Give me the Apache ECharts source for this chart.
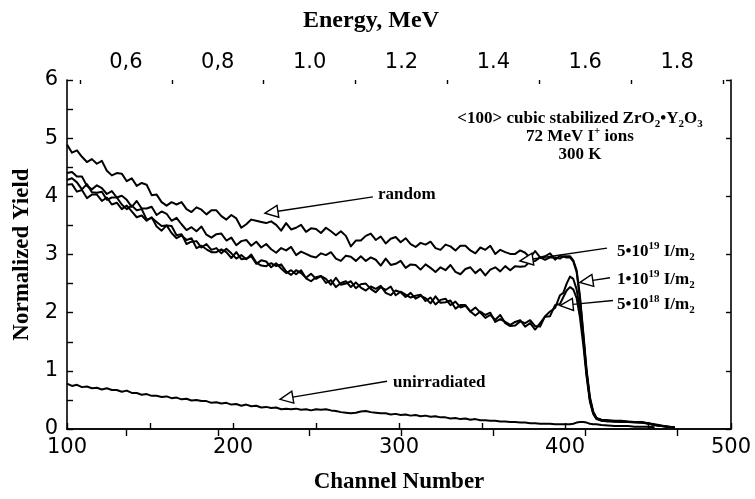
<!DOCTYPE html>
<html><head><meta charset="utf-8">
<script src="https://cdn.jsdelivr.net/npm/echarts@6/dist/echarts.min.js"></script>
<style>html,body{margin:0;padding:0;background:#fff}#c{width:755px;height:499px}</style>
</head><body><div id="c"></div>
<script>
const channels = [100,103,106,109,112,115,118,121,124,127,
 130,133,136,139,142,145,148,151,154,157,
 160,163,166,169,172,175,178,181,184,187,
 190,193,196,199,202,205,208,211,214,217,
 220,223,226,229,232,235,238,241,244,247,
 250,253,256,259,262,265,268,271,274,277,
 280,283,286,289,292,295,298,301,304,307,
 310,313,316,319,322,325,328,331,334,337,
 340,343,346,349,352,355,358,361,364,367,
 370,373,376,379,382,385,388,391,394,397,
 399,401,403,405,407,409,411,413,415,417,
 419,422,426,430,434,438,442,446,450,454,
 458,462,466];

const yieldRandom = [4.89,4.75,4.79,4.68,4.59,4.64,4.56,4.61,4.44,4.36,
 4.40,4.39,4.26,4.31,4.18,4.23,4.20,4.02,4.03,3.90,
 3.84,3.90,3.86,3.90,3.78,3.73,3.81,3.77,3.69,3.76,
 3.76,3.66,3.60,3.68,3.62,3.46,3.52,3.60,3.58,3.56,
 3.54,3.57,3.51,3.41,3.54,3.43,3.46,3.51,3.39,3.45,
 3.44,3.37,3.46,3.40,3.33,3.40,3.32,3.14,3.24,3.24,
 3.32,3.36,3.25,3.31,3.19,3.27,3.30,3.21,3.28,3.18,
 3.13,3.20,3.17,3.22,3.11,3.08,3.17,3.14,3.07,3.15,
 3.15,3.07,3.02,3.12,3.08,3.15,3.01,3.08,3.04,3.01,
 3.01,3.07,3.03,2.94,3.06,2.95,2.97,3.02,2.91,2.98,
 2.96,2.95,2.95,2.88,2.70,2.25,1.62,0.98,0.52,0.28,
 0.18,0.15,0.14,0.13,0.13,0.12,0.12,0.11,0.10,0.07,
 0.05,0.04,0.03];

const yield5e19 = [4.40,4.42,4.34,4.34,4.18,4.12,4.19,4.14,4.04,4.09,
 3.98,4.01,3.94,3.82,3.92,3.79,3.79,3.82,3.68,3.74,
 3.70,3.58,3.63,3.52,3.42,3.47,3.40,3.48,3.34,3.29,
 3.35,3.36,3.24,3.29,3.16,3.23,3.25,3.15,3.22,3.12,
 3.18,3.09,3.03,3.11,3.07,3.13,2.99,3.05,3.01,2.97,
 2.95,3.02,2.99,3.04,2.93,2.89,2.98,2.96,2.89,2.97,
 2.89,2.95,2.91,2.81,2.93,2.82,2.84,2.89,2.77,2.83,
 2.82,2.74,2.83,2.77,2.70,2.78,2.73,2.82,2.70,2.66,
 2.75,2.78,2.68,2.75,2.64,2.74,2.78,2.71,2.80,2.73,
 2.80,2.79,2.80,2.88,2.89,2.95,2.91,2.95,2.95,2.93,
 2.97,2.97,2.97,2.90,2.73,2.28,1.66,1.02,0.55,0.30,
 0.19,0.16,0.15,0.14,0.14,0.13,0.12,0.12,0.10,0.08,
 0.06,0.04,0.03];

const yield1e19 = [4.28,4.31,4.24,4.12,4.21,4.07,4.06,4.08,3.94,3.98,
 3.98,3.86,3.78,3.84,3.76,3.78,3.60,3.63,3.56,3.49,
 3.50,3.49,3.33,3.35,3.18,3.22,3.23,3.12,3.18,3.08,
 3.11,3.02,3.10,3.02,2.93,2.99,2.92,3.00,2.86,2.81,
 2.80,2.85,2.80,2.83,2.71,2.65,2.73,2.68,2.60,2.67,
 2.58,2.63,2.58,2.48,2.60,2.48,2.50,2.54,2.42,2.49,
 2.50,2.41,2.35,2.44,2.39,2.45,2.30,2.36,2.31,2.26,
 2.29,2.31,2.20,2.26,2.14,2.22,2.24,2.13,2.19,2.09,
 2.12,2.02,2.09,2.00,1.91,1.96,1.88,1.96,1.82,1.77,
 1.78,1.85,1.82,1.87,1.77,1.76,1.94,2.02,2.08,2.30,
 2.34,2.50,2.62,2.58,2.40,2.05,1.55,0.95,0.50,0.27,
 0.18,0.15,0.14,0.13,0.13,0.12,0.12,0.11,0.10,0.07,
 0.05,0.04,0.03];

const yield5e18 = [4.20,4.21,4.08,4.11,3.97,4.03,4.03,3.92,3.98,3.86,
 3.89,3.78,3.84,3.74,3.64,3.67,3.58,3.64,3.48,3.41,
 3.50,3.37,3.28,3.33,3.25,3.28,3.11,3.15,3.09,3.04,
 3.04,3.09,3.04,2.94,3.04,2.92,2.93,2.97,2.84,2.90,
 2.88,2.78,2.85,2.76,2.68,2.73,2.66,2.73,2.59,2.54,
 2.61,2.63,2.51,2.56,2.44,2.51,2.54,2.44,2.52,2.43,
 2.38,2.45,2.41,2.46,2.34,2.30,2.38,2.35,2.27,2.34,
 2.24,2.29,2.25,2.16,2.28,2.17,2.18,2.21,2.07,2.13,
 2.13,2.02,1.95,2.02,1.96,2.00,1.84,1.89,1.84,1.79,
 1.84,1.87,1.76,1.82,1.71,1.82,1.93,1.94,2.13,2.15,
 2.27,2.38,2.44,2.40,2.25,1.92,1.45,0.90,0.47,0.26,
 0.17,0.14,0.13,0.13,0.12,0.12,0.11,0.11,0.09,0.07,
 0.05,0.04,0.03];

const yieldUnirr = [0.78,0.74,0.76,0.72,0.73,0.70,0.71,0.68,0.70,0.67,
 0.67,0.64,0.66,0.62,0.62,0.59,0.60,0.57,0.57,0.55,
 0.56,0.53,0.54,0.51,0.52,0.49,0.50,0.48,0.48,0.45,
 0.46,0.44,0.45,0.42,0.43,0.40,0.42,0.39,0.40,0.37,
 0.38,0.36,0.37,0.34,0.35,0.34,0.35,0.33,0.34,0.32,
 0.34,0.33,0.34,0.32,0.31,0.29,0.28,0.27,0.28,0.30,
 0.31,0.29,0.28,0.27,0.27,0.25,0.26,0.24,0.25,0.23,
 0.24,0.22,0.23,0.21,0.22,0.20,0.20,0.18,0.19,0.17,
 0.18,0.16,0.17,0.15,0.15,0.14,0.14,0.13,0.13,0.12,
 0.12,0.11,0.11,0.10,0.10,0.09,0.09,0.09,0.08,0.08,
 0.08,0.08,0.08,0.09,0.11,0.12,0.12,0.11,0.09,0.08,
 0.08,0.07,0.06,0.05,0.05,0.05,0.04,0.04,0.04,0.03,
 null,null,null];

// top energy axis
const energyMin = 0.4717, energyMax = 1.9174;
const energyMajor = [0.6,0.8,1.0,1.2,1.4,1.6,1.8];
const energyLabels = ['0,6','0,8','1.0','1.2','1.4','1.6','1.8'];
const energyMinor = [0.5,0.7,0.9,1.1,1.3,1.5,1.7,1.9];

// annotation arrows (data coords: from text -> arrow tip)
const arrows = [
  {from:[284.3,3.99], to:[219.3,3.71]},
  {from:[425.3,3.11], to:[372.9,2.89]},
  {from:[427.1,2.60], to:[409.0,2.52]},
  {from:[428.9,2.21], to:[397.0,2.12]},
  {from:[292.8,0.82], to:[228.3,0.51]}
];

function pairs(v){ return channels.map((c,i)=>[c,v[i]]).filter(p=>p[1]!=null); }

const chart = echarts.init(document.getElementById('c'), null, {renderer:'canvas'});
const SANS = 'DejaVu Sans';
const SERIF = 'Liberation Serif';
const axisLine = {show:true, lineStyle:{color:'#000', width:1.6}};
const lineSeries = (name, v) => ({name, type:'line', data:pairs(v), showSymbol:false, symbol:'none',
  lineStyle:{color:'#000', width:2, join:'round'}, itemStyle:{color:'#000'}, silent:true});

chart.setOption({
  animation:false,
  backgroundColor:'#fff',
  grid:{left:67, top:80, width:664, height:353, containLabel:false},
  xAxis:[
    {type:'value', position:'bottom', min:100, max:500, interval:50,
     axisLine, splitLine:{show:false},
     axisTick:{inside:true, length:6, lineStyle:{color:'#000', width:1.4}},
     axisLabel:{color:'#000', fontFamily:SANS, fontSize:21, margin:8,
       formatter:v=> (v%100===0 ? String(v) : '')},
     name:'Channel Number', nameLocation:'middle', nameGap:42,
     nameTextStyle:{fontFamily:SERIF, fontWeight:'bold', fontSize:23, color:'#000'}},
    {type:'value', position:'top', min:energyMin, max:energyMax,
     axisLine, splitLine:{show:false},
     axisTick:{inside:true, length:7, customValues:energyMajor, lineStyle:{color:'#000', width:1.4}},
     axisLabel:{color:'#000', fontFamily:SANS, fontSize:21, margin:7, customValues:energyMajor,
       formatter:v=>{ let k=0,b=1e9; energyMajor.forEach((e,i)=>{const d=Math.abs(e-v); if(d<b){b=d;k=i;}}); return energyLabels[k]; }}},
    {type:'value', position:'top', min:energyMin, max:energyMax,
     axisLine:{show:false}, splitLine:{show:false},
     axisTick:{inside:true, length:4, customValues:energyMinor, lineStyle:{color:'#000', width:1.4}},
     axisLabel:{show:false}}
  ],
  yAxis:[
    {type:'value', position:'left', min:0, max:6, interval:0.5,
     axisLine, splitLine:{show:false},
     axisTick:{inside:true, length:6, lineStyle:{color:'#000', width:1.4}},
     axisLabel:{color:'#000', fontFamily:SANS, fontSize:21, margin:9,
       formatter:v=> (Number.isInteger(v) ? String(v) : '')},
     name:'Normalized Yield', nameLocation:'middle', nameGap:32, nameRotate:90,
     nameTextStyle:{fontFamily:SERIF, fontWeight:'bold', fontSize:23, color:'#000'}},
    {type:'value', position:'right', min:0, max:6, interval:1,
     axisLine, splitLine:{show:false},
     axisTick:{inside:true, length:5, lineStyle:{color:'#000', width:1.4}},
     axisLabel:{show:false}}
  ],
  series:[
    lineSeries('random', yieldRandom),
    lineSeries('5e19', yield5e19),
    lineSeries('1e19', yield1e19),
    lineSeries('5e18', yield5e18),
    lineSeries('unirradiated', yieldUnirr)
  ]
});

const rich = {
  b:{fontFamily:SERIF, fontWeight:'bold', fontSize:17, lineHeight:22, fill:'#000', verticalAlign:'middle'},
  sup:{fontFamily:SERIF, fontWeight:'bold', fontSize:11, lineHeight:22, fill:'#000', verticalAlign:'top'},
  sub:{fontFamily:SERIF, fontWeight:'bold', fontSize:11, lineHeight:22, fill:'#000', verticalAlign:'bottom'}
};
function txt(x, y, text, align){
  return {type:'text', silent:true, z:100, style:{x, y, text, rich, align:align||'left', verticalAlign:'middle',
    fontFamily:SERIF, fontWeight:'bold', fontSize:17, fill:'#000'}};
}
const graphics = [];
arrows.forEach(a=>{
  const p0 = chart.convertToPixel({xAxisIndex:0, yAxisIndex:0}, a.from);
  const p1 = chart.convertToPixel({xAxisIndex:0, yAxisIndex:0}, a.to);
  const dx = p1[0]-p0[0], dy = p1[1]-p0[1], L = Math.hypot(dx,dy);
  const ux = dx/L, uy = dy/L, nx = -uy, ny = ux;
  const H = 13, W = 6;
  const bx = p1[0]-ux*H, by = p1[1]-uy*H;
  graphics.push({type:'line', silent:true, z:90, shape:{x1:p0[0], y1:p0[1], x2:bx, y2:by}, style:{stroke:'#000', lineWidth:1.4}});
  graphics.push({type:'polygon', silent:true, z:91, shape:{points:[[p1[0],p1[1]],[bx+nx*W,by+ny*W],[bx-nx*W,by-ny*W]]},
    style:{fill:'#fff', stroke:'#000', lineWidth:1.4}});
});
graphics.push({type:'text', silent:true, z:100, style:{x:371, y:21, text:'Energy, MeV', align:'center', verticalAlign:'middle',
  fontFamily:SERIF, fontWeight:'bold', fontSize:24, fill:'#000'}});
graphics.push(txt(378, 195, '{b|random}'));
graphics.push(txt(617, 252, '{b|5•10}{sup|19}{b| I/m}{sub|2}'));
graphics.push(txt(617, 280, '{b|1•10}{sup|19}{b| I/m}{sub|2}'));
graphics.push(txt(617, 305, '{b|5•10}{sup|18}{b| I/m}{sub|2}'));
graphics.push(txt(393, 383, '{b|unirradiated}'));
graphics.push(txt(580, 119, '{b|<100> cubic stabilized ZrO}{sub|2}{b|•Y}{sub|2}{b|O}{sub|3}', 'center'));
graphics.push(txt(580, 137, '{b|72 MeV I}{sup|+}{b| ions}', 'center'));
graphics.push(txt(580, 155, '{b|300 K}', 'center'));
chart.setOption({graphic:graphics});
</script>
</body></html>
